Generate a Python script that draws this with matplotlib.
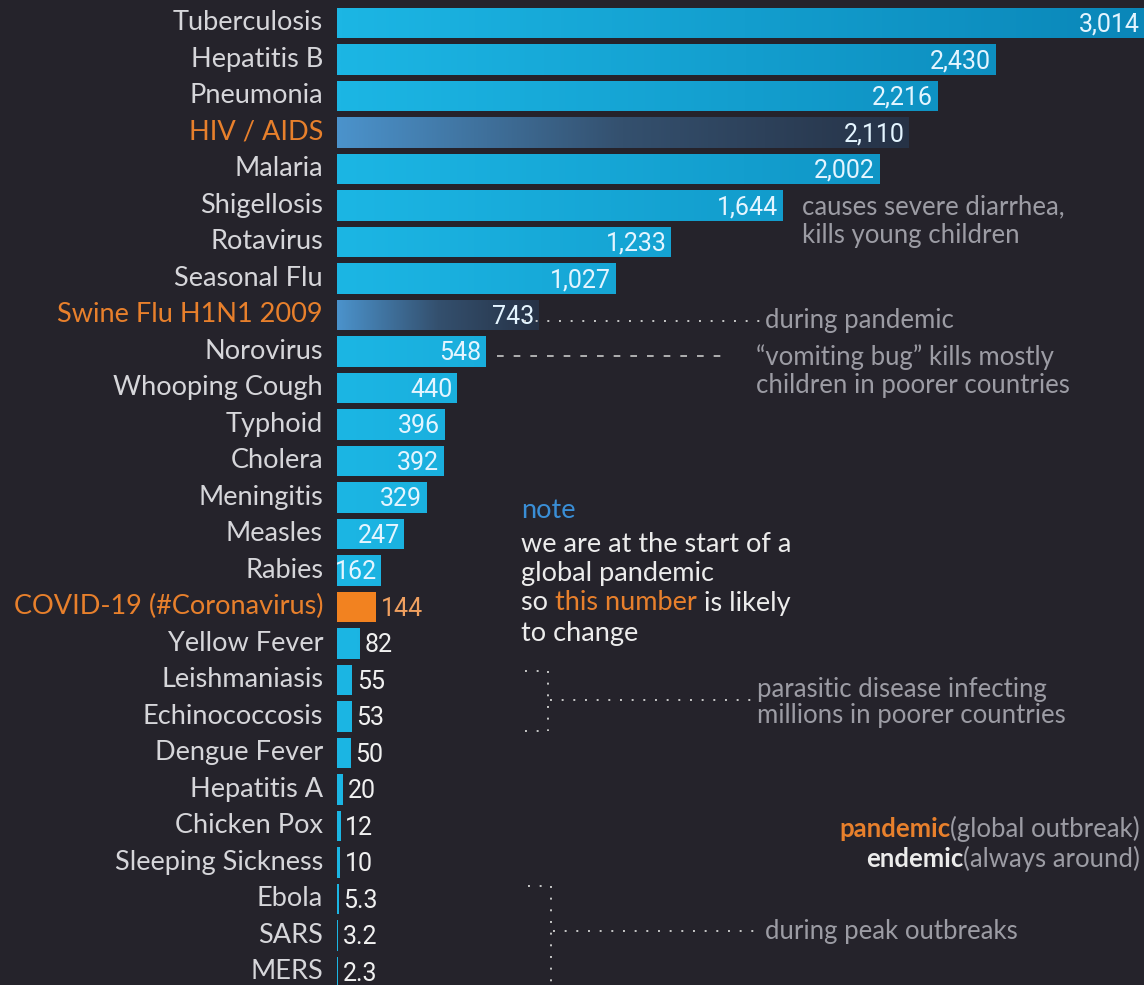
import matplotlib
matplotlib.use("Agg")
import matplotlib.pyplot as plt
import numpy as np
from matplotlib.colors import LinearSegmentedColormap
from matplotlib.lines import Line2D

diseases = ["Tuberculosis", "Hepatitis B", "Pneumonia", "HIV / AIDS", "Malaria",
            "Shigellosis", "Rotavirus", "Seasonal Flu", "Swine Flu H1N1 2009",
            "Norovirus", "Whooping Cough", "Typhoid", "Cholera", "Meningitis",
            "Measles", "Rabies", "COVID-19 (#Coronavirus)", "Yellow Fever",
            "Leishmaniasis", "Echinococcosis", "Dengue Fever", "Hepatitis A",
            "Chicken Pox", "Sleeping Sickness", "Ebola", "SARS", "MERS"]
deaths = [3014, 2430, 2216, 2110, 2002, 1644, 1233, 1027, 743, 548, 440, 396,
          392, 329, 247, 162, 144, 82, 55, 53, 50, 20, 12, 10, 5.3, 3.2, 2.3]
value_labels = ["3,014", "2,430", "2,216", "2,110", "2,002", "1,644", "1,233",
                "1,027", "743", "548", "440", "396", "392", "329", "247", "162",
                "144", "82", "55", "53", "50", "20", "12", "10", "5.3", "3.2", "2.3"]
pandemic = ["HIV / AIDS", "Swine Flu H1N1 2009"]
covid = "COVID-19 (#Coronavirus)"

W, H = 1144, 985
BG = "#25232b"
ORANGE = "#e8802c"
LABEL = "#d6d6da"
NOTE = "#9c9ca4"
LATO = ["Lato", "DejaVu Sans"]

fig = plt.figure(figsize=(W / 100, H / 100), dpi=100, facecolor=BG)
ax = fig.add_axes([337 / W, 0, 1 - 337 / W, 1])
ax.set_facecolor(BG)
XMAX = 2980
n = len(diseases)
for s in ax.spines.values():
    s.set_visible(False)
ax.set_xticks([])
ax.set_yticks([])

ypos = np.arange(n)
bar_h = 0.84
cyan = LinearSegmentedColormap.from_list("cy", ["#1cb6e4", "#0a86b8"])
dark = LinearSegmentedColormap.from_list("dk", ["#4b93cc", "#34506e", "#263246"])
grad = np.linspace(0, 1, 256).reshape(1, -1)

bars = ax.barh(ypos, deaths, height=bar_h, color="#1aa8d8", linewidth=0)
for i, (b, name, v) in enumerate(zip(bars, diseases, deaths)):
    if name == covid:
        b.set_color("#f28220")
        continue
    cmap = dark if name in pandemic else cyan
    frac = min(v / 3014, 1.0)
    g = grad if name in pandemic else np.linspace(0, frac, 256).reshape(1, -1)
    im = ax.imshow(g, cmap=cmap, vmin=0, vmax=1, aspect="auto",
                   extent=(0, v, i + bar_h / 2, i - bar_h / 2), zorder=2,
                   interpolation="bilinear")
    im.set_clip_path(b)
ax.set_ylim(n - 1 + 0.36, -0.63)
ax.set_xlim(0, XMAX)

numfont = dict(family=["Roboto", "DejaVu Sans"], fontsize=18)
px = XMAX / (W - 337)
for i, (name, v, lab) in enumerate(zip(diseases, deaths, value_labels)):
    if v >= 150:
        xe = min(v, XMAX) - 4 * px
        ax.text(xe, i + 0.05, lab, ha="right", va="center", color="#e4f5ff",
                zorder=4, **numfont)
    else:
        col = "#f0a060" if name == covid else "#f0f0f0"
        ax.text(v + 5 * px, i + 0.05, lab, ha="left", va="center", color=col,
                zorder=4, **numfont)
    col = ORANGE if (name in pandemic or name == covid) else LABEL
    ax.text(-14 * px, i, name, ha="right", va="center", color=col,
            fontsize=19.5, family=LATO, clip_on=False)


def ft(x, y, s, **kw):
    return fig.text(x / W, 1 - y / H, s, **kw)


def fl(xs, ys, **kw):
    fig.add_artist(Line2D([x / W for x in xs], [1 - y / H for y in ys],
                          color="#c8c8c8", linewidth=1.4,
                          linestyle=(0, (1, 5)), **kw))


af = dict(family=LATO, fontsize=18.5, color=NOTE, va="center")
ft(802, 207, "causes severe diarrhea,", **af)
ft(802, 236, "kills young children", **af)
fl([524, 762], [321, 321])
ft(765, 321, "during pandemic", **af)
fig.add_artist(Line2D([497 / W, 725 / W], [1 - 356 / H, 1 - 356 / H],
                      color="#c8c8c8", linewidth=1.2, linestyle=(0, (4, 6))))
ft(756, 357, "\u201cvomiting bug\u201d kills mostly", **af)
ft(756, 386, "children in poorer countries", **af)

nf = dict(family=LATO, fontsize=19.5, va="center")
ft(521, 511, "note", color="#3a8ed6", **nf)
ft(521, 545, "we are at the start of a", color="#ececec", **nf)
ft(521, 574, "global pandemic", color="#ececec", **nf)
t1 = ft(521, 603, "so ", color="#ececec", **nf)
fig.canvas.draw()
r = fig.canvas.get_renderer()
bb = t1.get_window_extent(r)
t2 = fig.text(bb.x1 / W, 1 - 603 / H, "this number", color=ORANGE, **nf)
bb2 = t2.get_window_extent(r)
fig.text(bb2.x1 / W, 1 - 603 / H, " is likely", color="#ececec", **nf)
ft(521, 633, "to change", color="#ececec", **nf)

# bracket 1
fl([525, 548], [671, 671])
fl([548, 548], [671, 731])
fl([525, 548], [731, 731])
fl([550, 757], [700, 700])
ft(757, 690, "parasitic disease infecting", **af)
ft(757, 715, "millions in poorer countries", **af)

# bracket 2
fl([528, 551], [886, 886])
fl([551, 551], [886, 985])
fl([553, 762], [931, 931])
ft(765, 931, "during peak outbreaks", **af)

# legend
lf = dict(family=LATO, fontsize=18.5, va="center")
ta = ft(1140, 829, "(global outbreak)", color=NOTE, ha="right", **lf)
fig.canvas.draw()
bba = ta.get_window_extent(r)
fig.text(bba.x0 / W, 1 - 829 / H, "pandemic", color=ORANGE, ha="right",
         fontweight="bold", **lf)
tb = ft(1140, 859, "(always around)", color=NOTE, ha="right", **lf)
fig.canvas.draw()
bbb = tb.get_window_extent(r)
fig.text(bbb.x0 / W, 1 - 859 / H, "endemic", color="#ececec", ha="right",
         fontweight="bold", **lf)

fig.savefig("out.png", dpi=100, facecolor=BG)
